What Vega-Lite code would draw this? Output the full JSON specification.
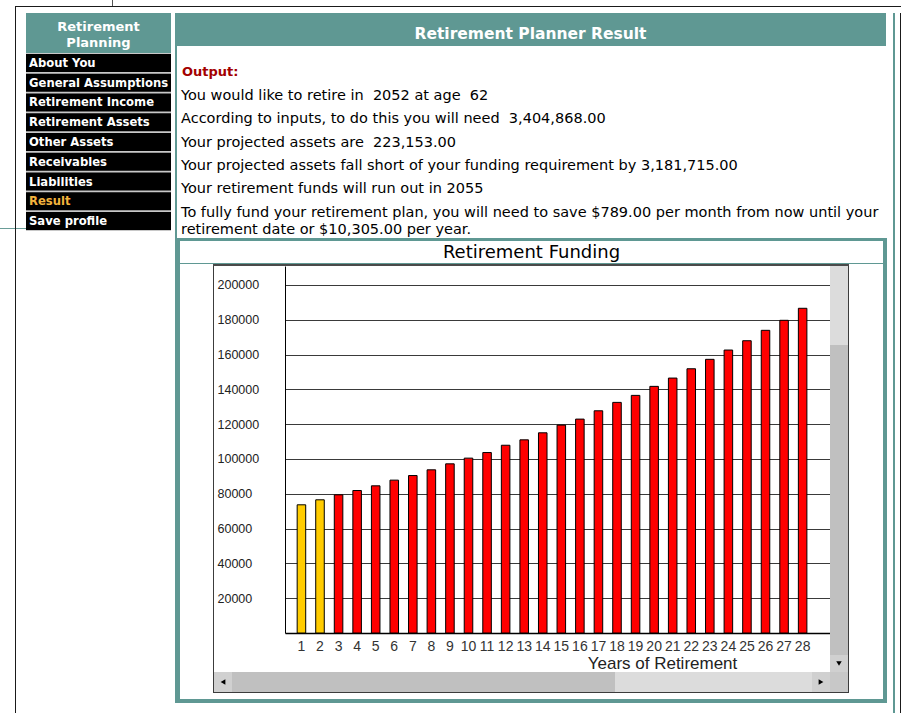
{
  "$schema": "https://vega.github.io/schema/vega-lite/v6.json",
  "padding": {"left": 0, "top": 0, "right": 0, "bottom": 0},
  "background": "white",
  "config": {"view": {"stroke": null}, "font": "DejaVu Sans", "concat": {"spacing": 0}},
  "datasets": {
    "none": [],
    "menu": [
      {"item": "About You"}, {"item": "General Assumptions"}, {"item": "Retirement Income"},
      {"item": "Retirement Assets"}, {"item": "Other Assets"}, {"item": "Receivables"},
      {"item": "Liabilities"}, {"item": "Result"}, {"item": "Save profile"}
    ],
    "summary": [
      {"n": 1, "kind": "heading", "text": "Output:"},
      {"n": 2, "kind": "line", "text": "You would like to retire in \u00a02052 at age \u00a062"},
      {"n": 3, "kind": "line", "text": "According to inputs, to do this you will need \u00a03,404,868.00"},
      {"n": 4, "kind": "line", "text": "Your projected assets are \u00a0223,153.00"},
      {"n": 5, "kind": "line", "text": "Your projected assets fall short of your funding requirement by 3,181,715.00"},
      {"n": 6, "kind": "line", "text": "Your retirement funds will run out in 2055"},
      {"n": 7, "kind": "line", "text": "To fully fund your retirement plan, you will need to save $789.00 per month from now until your\nretirement date or $10,305.00 per year."}
    ],
    "funding": [
      {"year": 1, "amount": 73670, "status": "Funded"},
      {"year": 2, "amount": 76540, "status": "Funded"},
      {"year": 3, "amount": 79410, "status": "Shortfall"},
      {"year": 4, "amount": 81880, "status": "Shortfall"},
      {"year": 5, "amount": 84580, "status": "Shortfall"},
      {"year": 6, "amount": 87850, "status": "Shortfall"},
      {"year": 7, "amount": 90490, "status": "Shortfall"},
      {"year": 8, "amount": 93770, "status": "Shortfall"},
      {"year": 9, "amount": 97210, "status": "Shortfall"},
      {"year": 10, "amount": 100490, "status": "Shortfall"},
      {"year": 11, "amount": 103700, "status": "Shortfall"},
      {"year": 12, "amount": 107900, "status": "Shortfall"},
      {"year": 13, "amount": 111000, "status": "Shortfall"},
      {"year": 14, "amount": 115040, "status": "Shortfall"},
      {"year": 15, "amount": 119470, "status": "Shortfall"},
      {"year": 16, "amount": 122920, "status": "Shortfall"},
      {"year": 17, "amount": 127700, "status": "Shortfall"},
      {"year": 18, "amount": 132530, "status": "Shortfall"},
      {"year": 19, "amount": 136550, "status": "Shortfall"},
      {"year": 20, "amount": 141730, "status": "Shortfall"},
      {"year": 21, "amount": 146500, "status": "Shortfall"},
      {"year": 22, "amount": 151850, "status": "Shortfall"},
      {"year": 23, "amount": 157260, "status": "Shortfall"},
      {"year": 24, "amount": 162610, "status": "Shortfall"},
      {"year": 25, "amount": 167960, "status": "Shortfall"},
      {"year": 26, "amount": 173940, "status": "Shortfall"},
      {"year": 27, "amount": 179690, "status": "Shortfall"},
      {"year": 28, "amount": 186600, "status": "Shortfall"}
    ]
  },
  "spacing": 0,
  "hconcat": [
    {"spacing": 0, "vconcat": [
      {"width": 15, "height": 228, "data": {"name": "none"}, "mark": "rect"},
      {"width": 15, "height": 1, "view": {"fill": "#6a9d98"}, "data": {"name": "none"}, "mark": "rect"}
    ]},
    {"spacing": 0, "vconcat": [
      {"width": 1, "height": 6, "data": {"name": "none"}, "mark": "rect"},
      {"width": 1, "height": 707, "view": {"fill": "#1a1a1a"}, "data": {"name": "none"}, "mark": "rect"}
    ]},
    {"spacing": 0, "vconcat": [
      {"spacing": 0, "hconcat": [
        {"width": 96, "height": 6, "data": {"name": "none"}, "mark": "rect"},
        {"width": 1, "height": 6, "view": {"fill": "#555555"}, "data": {"name": "none"}, "mark": "rect"}
      ]},
      {"width": 885, "height": 1, "view": {"fill": "#1a1a1a"}, "data": {"name": "none"}, "mark": "rect"},
      {"width": 1, "height": 6, "data": {"name": "none"}, "mark": "rect"},
      {"spacing": 0, "hconcat": [
        {"spacing": 0, "vconcat": [
          {"width": 10, "height": 215, "data": {"name": "none"}, "mark": "rect"},
          {"width": 10, "height": 1, "view": {"fill": "#6a9d98"}, "data": {"name": "none"}, "mark": "rect"}
        ]},
        {"spacing": 0, "vconcat": [
          {"width": 145, "height": 40, "view": {"fill": "#5f9893"},
           "data": {"values": [{"title": "Retirement\nPlanning"}]},
           "mark": {"type": "text", "color": "white", "fontSize": 13, "fontWeight": "bold", "lineBreak": "\n", "lineHeight": 16, "dy": -6},
           "encoding": {"text": {"field": "title"}}},
          {"width": 145, "height": 178, "view": {"fill": "#c8c8c8"},
           "data": {"name": "menu"},
           "encoding": {"y": {"field": "item", "type": "nominal", "sort": null, "axis": null, "scale": {"type": "band", "paddingInner": 0.09, "paddingOuter": 0.045}}},
           "layer": [
             {"mark": {"type": "rect", "color": "black"}, "encoding": {"x": {"value": 0}, "x2": {"value": "width"}}},
             {"mark": {"type": "text", "align": "left", "dx": 3, "dy": 1, "fontSize": 11.6, "fontWeight": "bold"},
              "encoding": {"x": {"value": 0}, "text": {"field": "item"},
                "color": {"condition": {"test": "datum.item === 'Result'", "value": "#f3b33d"}, "value": "white"}}}
           ]}
        ]},
        {"width": 4, "height": 1, "data": {"name": "none"}, "mark": "rect"},
        {"spacing": 0, "vconcat": [
          {"width": 711, "height": 33, "view": {"fill": "#5f9893"},
           "data": {"values": [{"title": "Retirement Planner Result"}]},
           "mark": {"type": "text", "color": "white", "fontSize": 15.5, "fontWeight": "bold", "dy": 4},
           "encoding": {"text": {"field": "title"}}},
          {"spacing": 0, "hconcat": [
            {"width": 2, "height": 192, "view": {"fill": "#5f9893"}, "data": {"name": "none"}, "mark": "rect"},
            {"width": 4, "height": 192, "data": {"name": "none"}, "mark": "rect"},
            {"width": 700, "height": 192, "data": {"name": "summary"},
             "encoding": {
               "y": {"field": "n", "type": "ordinal", "axis": null, "scale": {"type": "band", "paddingInner": 0, "paddingOuter": 0.614, "align": 0.45}},
               "x": {"value": 0},
               "text": {"field": "text"}
             },
             "layer": [
               {"transform": [{"filter": "datum.kind === 'heading'"}],
                "mark": {"type": "text", "align": "left", "baseline": "top", "dx": 1, "dy": -5, "fontSize": 13, "fontWeight": "bold", "color": "#a30000"}},
               {"transform": [{"filter": "datum.kind !== 'heading'"}],
                "mark": {"type": "text", "align": "left", "baseline": "top", "dy": -5, "fontSize": 14.5, "color": "#000000", "lineBreak": "\n", "lineHeight": 17}}
             ]}
          ]},
          {"spacing": 0, "hconcat": [
            {"width": 5, "height": 465, "view": {"fill": "#5f9893"}, "data": {"name": "none"}, "mark": "rect"},
            {"spacing": 0, "vconcat": [
              {"width": 703, "height": 3, "view": {"fill": "#5f9893"}, "data": {"name": "none"}, "mark": "rect"},
              {"width": 703, "height": 22,
               "data": {"values": [{"title": "Retirement Funding"}]},
               "mark": {"type": "text", "fontSize": 18, "color": "#000000", "dy": 1},
               "encoding": {"text": {"field": "title"}}},
              {"width": 703, "height": 1, "view": {"fill": "#5f9893"}, "data": {"name": "none"}, "mark": "rect"},
              {"spacing": 0, "hconcat": [
                {"width": 33, "height": 435, "data": {"name": "none"}, "mark": "rect"},
                {"spacing": 0, "vconcat": [
                  {"width": 636, "height": 2, "view": {"fill": "#4a4a4a"}, "data": {"name": "none"}, "mark": "rect"},
                  {"spacing": 0, "hconcat": [
                    {"width": 1, "height": 406, "view": {"fill": "#3c3c3c"}, "data": {"name": "none"}, "mark": "rect"},
                    {"width": 3, "height": 406, "data": {"name": "none"}, "mark": "rect"},
                    {"width": 545, "height": 367,
                     "data": {"name": "funding"},
                     "mark": {"type": "bar", "stroke": "#000000", "strokeWidth": 1},
                     "encoding": {
                       "x": {"field": "year", "type": "ordinal",
                             "scale": {"paddingInner": 0.54, "paddingOuter": 0.95, "align": 0.345},
                             "axis": {"title": "Years of Retirement", "titleFont": "Liberation Sans", "titleFontSize": 17, "titleFontWeight": "normal", "titleColor": "#222222", "titlePadding": 2, "titleX": 377,
                                      "labelAngle": 0, "labelFont": "Liberation Sans", "labelFontSize": 14, "labelColor": "#333333", "labelPadding": 6, "labelOverlap": false,
                                      "ticks": false, "grid": false, "domainColor": "#000000", "domainWidth": 1.5}},
                       "y": {"field": "amount", "type": "quantitative",
                             "scale": {"domain": [0, 210900], "nice": false},
                             "axis": {"title": null, "values": [20000, 40000, 60000, 80000, 100000, 120000, 140000, 160000, 180000, 200000], "format": "d",
                                      "labelAlign": "left", "labelPadding": 68, "labelFont": "Liberation Sans", "labelFontSize": 12.5, "labelColor": "#222222",
                                      "ticks": false, "domainColor": "#000000", "domainWidth": 1, "grid": true, "gridColor": "#3a3a3a", "gridWidth": 1, "gridOpacity": 1}},
                       "color": {"field": "status", "type": "nominal", "scale": {"domain": ["Funded", "Shortfall"], "range": ["#ffcc00", "#ff0000"]}, "legend": null}
                     }},
                    {"spacing": 0, "vconcat": [
                      {"width": 18, "height": 79, "view": {"fill": "#dcdcdc"}, "data": {"name": "none"}, "mark": "rect"},
                      {"width": 18, "height": 310, "view": {"fill": "#c0c0c0"}, "data": {"name": "none"}, "mark": "rect"},
                      {"width": 18, "height": 17, "view": {"fill": "#d0d0d0"}, "data": {"values": [{"button": "down"}]},
                       "mark": {"type": "point", "shape": "triangle-down", "filled": true, "color": "#000000", "size": 30, "opacity": 1}}
                    ]},
                    {"width": 1, "height": 406, "view": {"fill": "#3c3c3c"}, "data": {"name": "none"}, "mark": "rect"}
                  ]},
                  {"spacing": 0, "hconcat": [
                    {"width": 1, "height": 20, "view": {"fill": "#3c3c3c"}, "data": {"name": "none"}, "mark": "rect"},
                    {"width": 18, "height": 20, "view": {"fill": "#d0d0d0"}, "data": {"values": [{"button": "left"}]},
                     "mark": {"type": "point", "shape": "triangle-left", "filled": true, "color": "#000000", "size": 30, "opacity": 1}},
                    {"width": 383, "height": 20, "view": {"fill": "#c0c0c0"}, "data": {"name": "none"}, "mark": "rect"},
                    {"width": 197, "height": 20, "view": {"fill": "#dcdcdc"}, "data": {"name": "none"}, "mark": "rect"},
                    {"width": 18, "height": 20, "view": {"fill": "#d0d0d0"}, "data": {"values": [{"button": "right"}]},
                     "mark": {"type": "point", "shape": "triangle-right", "filled": true, "color": "#000000", "size": 30, "opacity": 1}},
                    {"width": 18, "height": 20, "view": {"fill": "#c8c8c8"}, "data": {"name": "none"}, "mark": "rect"},
                    {"width": 1, "height": 20, "view": {"fill": "#3c3c3c"}, "data": {"name": "none"}, "mark": "rect"}
                  ]},
                  {"width": 636, "height": 1, "view": {"fill": "#3c3c3c"}, "data": {"name": "none"}, "mark": "rect"}
                ]},
                {"width": 34, "height": 435, "data": {"name": "none"}, "mark": "rect"}
              ]},
              {"width": 703, "height": 4, "view": {"fill": "#5f9893"}, "data": {"name": "none"}, "mark": "rect"}
            ]},
            {"width": 4, "height": 465, "view": {"fill": "#5f9893"}, "data": {"name": "none"}, "mark": "rect"}
          ]}
        ]},
        {"width": 6, "height": 1, "data": {"name": "none"}, "mark": "rect"},
        {"width": 2, "height": 700, "view": {"fill": "#5f9893"}, "data": {"name": "none"}, "mark": "rect"},
        {"width": 5, "height": 1, "data": {"name": "none"}, "mark": "rect"},
        {"width": 1, "height": 700, "view": {"fill": "#1a1a1a"}, "data": {"name": "none"}, "mark": "rect"}
      ]}
    ]}
  ]
}
